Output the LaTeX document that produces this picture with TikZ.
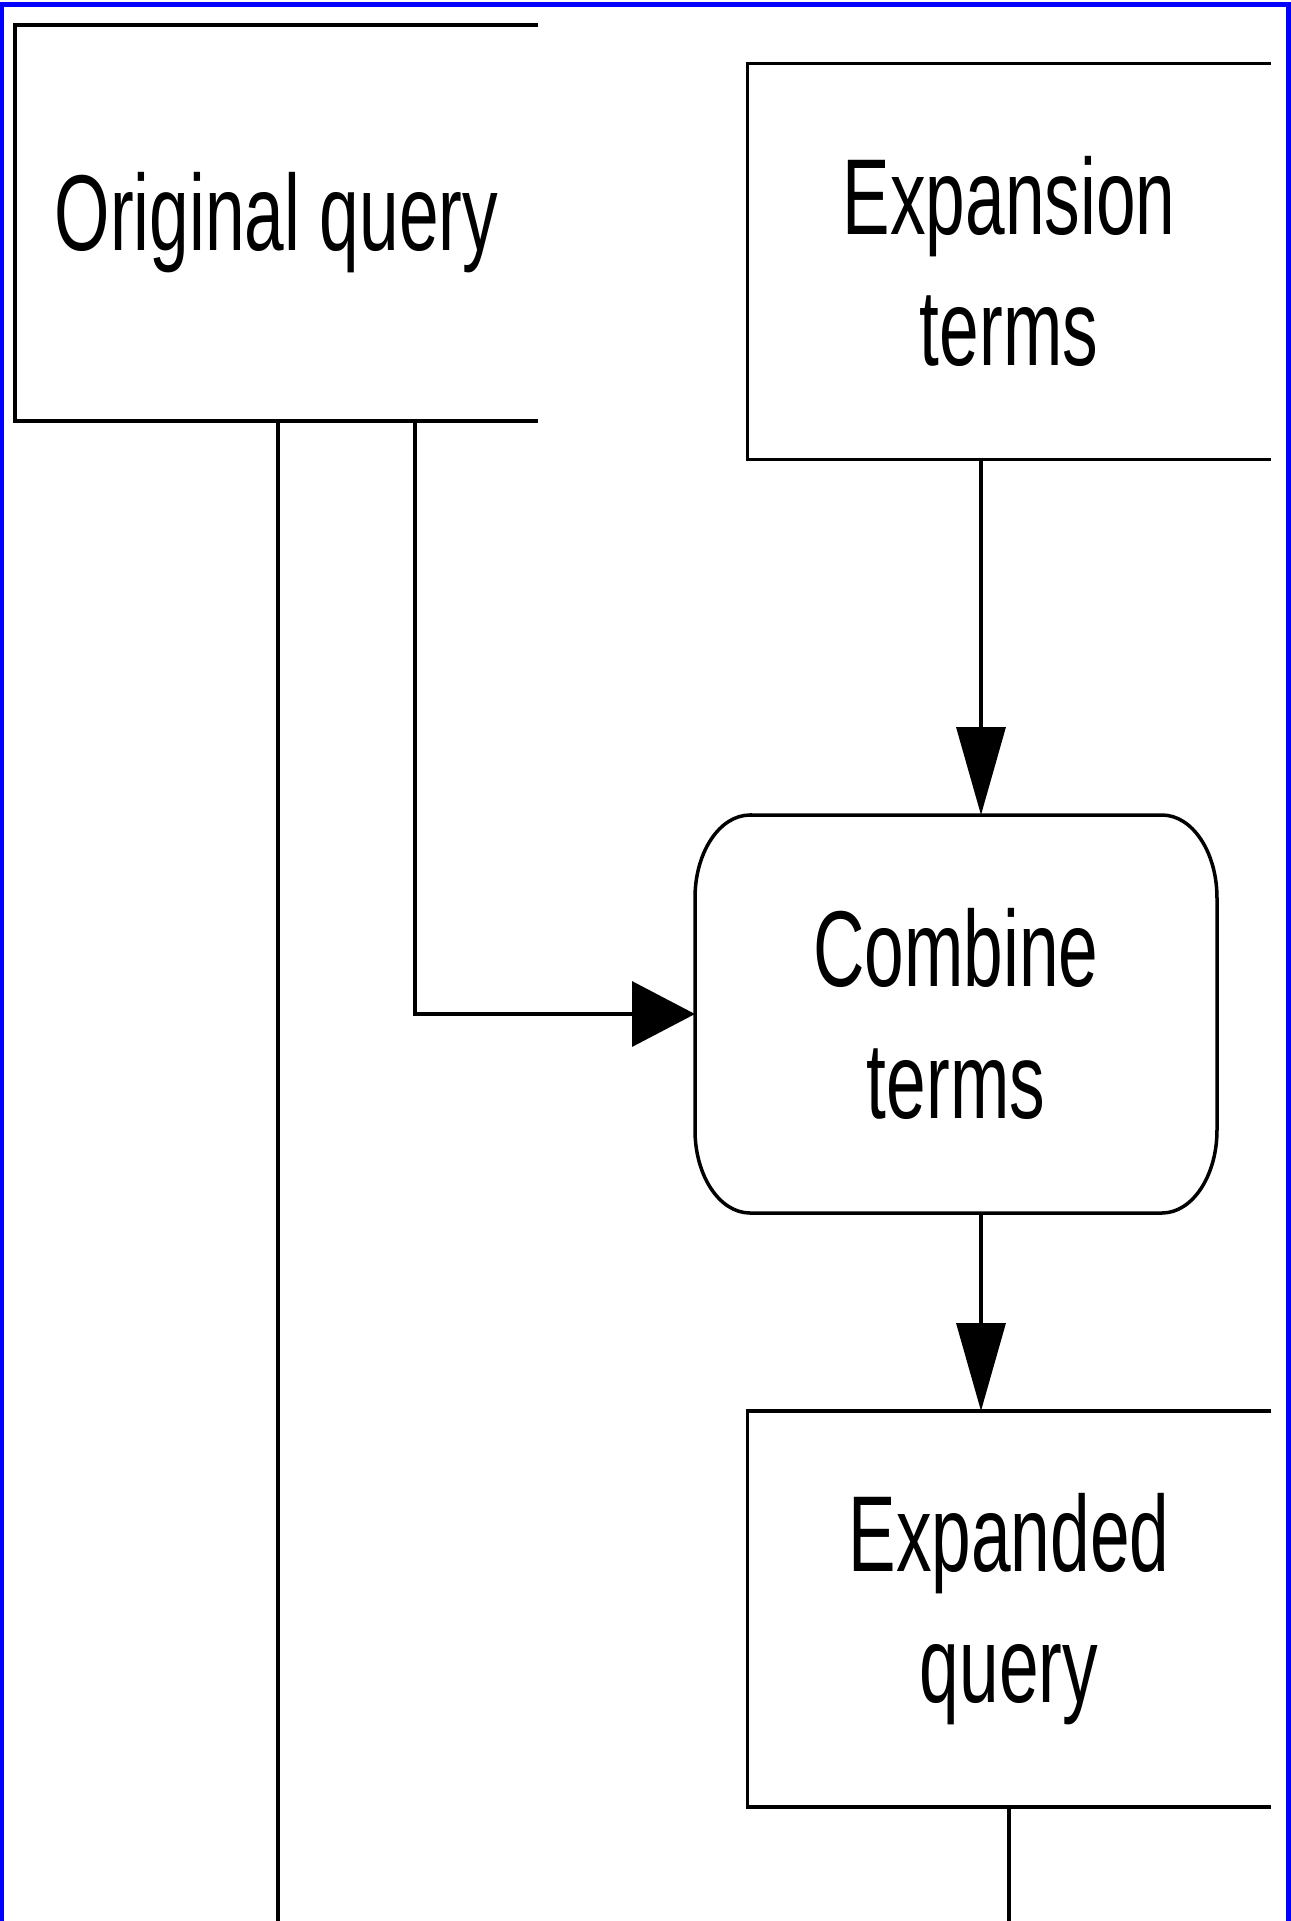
\documentclass[tikz,border=0pt]{standalone}
\usepackage{fontspec}
\newfontfamily\boxfont{Liberation Sans}[FakeStretch=0.66]
\usetikzlibrary{arrows.meta, positioning, calc}
\definecolor{cframe}{HTML}{0000FF}
\tikzset{
  every picture/.style={line width=0.035cm},
  box/.style={minimum width=5.23cm, minimum height=3.96cm, align=center, inner sep=0pt, outer sep=0pt,
    font=\boxfont\fontsize{30.7pt}{37.5pt}\selectfont},
  harrow/.style={-{Triangle[length=0.63cm, width=0.65cm]}},
  varrow/.style={-{Triangle[length=0.88cm, width=0.49cm]}},
  frame/.style={draw=cframe, line width=0.045cm},
}
\begin{document}
\begin{tikzpicture}
  \useasboundingbox (0,0) rectangle (12.91,-19.21);
  % outer frame, open at the bottom
  \draw[frame] (0.015,-19.3) |- (12.885,-0.045) -- (12.885,-19.3);
  % the four boxes
  \node[box] (orig) at (2.765,-2.23) {Original query};
  \node[box] (exp) at (10.09,-2.615) {Expansion\\terms};
  \node[box, minimum width=5.22cm, minimum height=3.98cm] (comb) at (9.56,-10.14) {Combine\\terms};
  \node[box, below=1.98cm of comb, xshift=0.53cm] (expd) {Expanded\\query};
  \draw (orig.north east) -- (orig.north west) -- (orig.south west) -- (orig.south east);
  \draw (exp.north east) -- (exp.north west) -- (exp.south west) -- (exp.south east);
  \draw (expd.north east) -- (expd.north west) -- (expd.south west) -- (expd.south east);
  \draw ($(comb.north west)+(0.55,0)$) -- ($(comb.north east)+(-0.55,0)$)
    arc[start angle=90, end angle=0, x radius=0.55cm, y radius=0.83cm]
    -- ($(comb.south east)+(0,0.83)$)
    arc[start angle=0, end angle=-90, x radius=0.55cm, y radius=0.83cm]
    -- ($(comb.south west)+(0.55,0)$)
    arc[start angle=270, end angle=180, x radius=0.55cm, y radius=0.83cm]
    -- ($(comb.north west)+(0,-0.83)$)
    arc[start angle=180, end angle=90, x radius=0.55cm, y radius=0.83cm]
    -- cycle;
  % connectors
  \coordinate (vx) at (9.81,0);
  \coordinate (qx) at (4.15,0);
  \coordinate (lx) at (2.78,0);
  \coordinate (bot) at (0,-19.3);
  \draw[varrow] (exp.south -| vx) -- (comb.north -| vx);
  \draw[varrow] (comb.south -| vx) -- (expd.north -| vx);
  \draw[harrow] (orig.south -| qx) |- (comb.west);
  \draw (orig.south -| lx) -- (lx |- bot);
  \draw (expd.south) -- (expd.south |- bot);
\end{tikzpicture}
\end{document}
